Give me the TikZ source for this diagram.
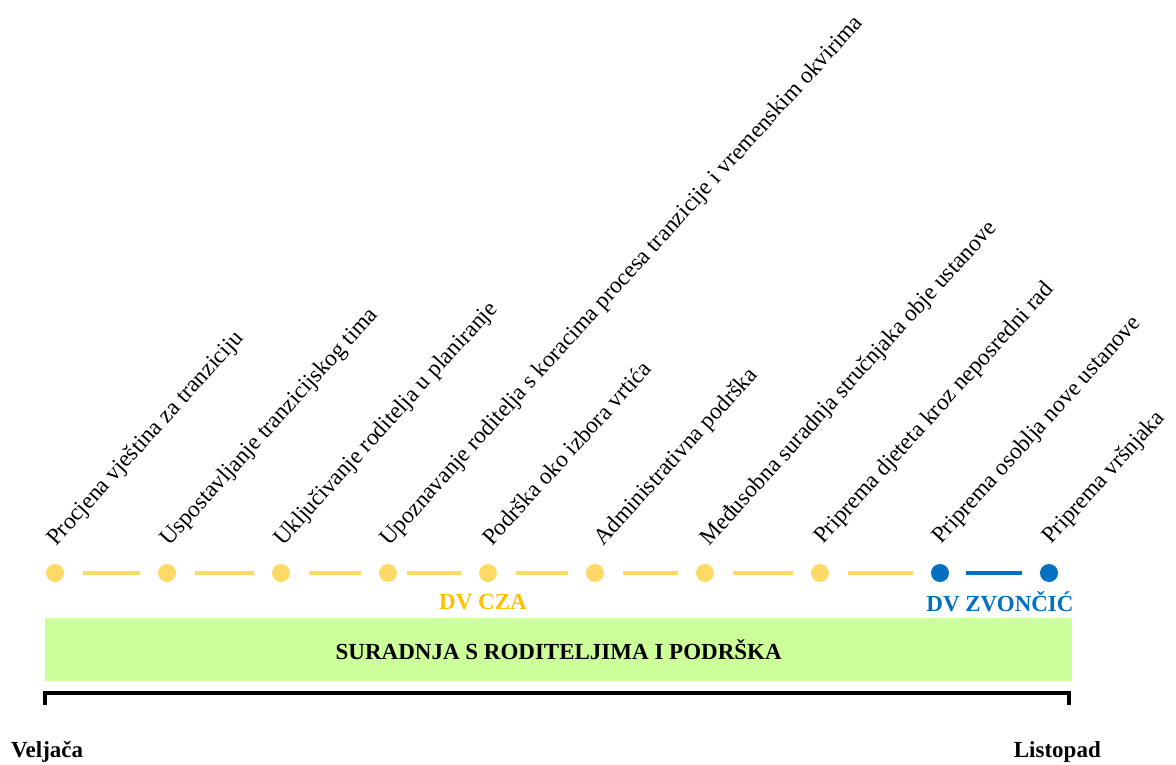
\documentclass[tikz,border=0pt]{standalone}
\usepackage{fontspec}
\setmainfont{Liberation Serif}
\definecolor{dotyellow}{HTML}{FFD966}
\definecolor{czagold}{HTML}{FFC000}
\definecolor{zblue}{HTML}{0070C0}
\definecolor{boxgreen}{HTML}{CCFF99}
\tikzset{
  ydot/.style={circle, fill=dotyellow, draw=none, minimum size=18pt, inner sep=0pt},
  bdot/.style={circle, fill=zblue, draw=none, minimum size=18pt, inner sep=0pt},
  ydash/.style={draw=dotyellow, line width=4.2pt, shorten <=19pt, shorten >=18pt},
  bdash/.style={draw=zblue, line width=4.2pt, shorten <=17pt, shorten >=18pt},
  lbl/.style={rotate=47.8, anchor=base west, inner sep=0pt, font=\fontsize{23.3}{26}\selectfont},
  boldlbl/.style={font=\fontsize{23}{26}\selectfont\bfseries, inner sep=0pt},
}
\begin{document}
\begin{tikzpicture}[x=1pt, y=-1pt]
\useasboundingbox (0,0) rectangle (1176,765);
% dots
\node[ydot] (d1) at (55,573) {};
\node[ydot] (d2) at (167,573) {};
\node[ydot] (d3) at (281,573) {};
\node[ydot] (d4) at (388,573) {};
\node[ydot] (d5) at (488,573) {};
\node[ydot] (d6) at (595,573) {};
\node[ydot] (d7) at (705,573) {};
\node[ydot] (d8) at (820,573) {};
\node[bdot] (d9) at (940,573) {};
\node[bdot] (d10) at (1049,573) {};
% dashes
\draw[ydash] (d1) -- (d2);
\draw[ydash] (d2) -- (d3);
\draw[ydash] (d3) -- (d4);
\draw[ydash, shorten <=10pt] (d4) -- (d5);
\draw[ydash] (d5) -- (d6);
\draw[ydash] (d6) -- (d7);
\draw[ydash] (d7) -- (d8);
\draw[ydash] (d8) -- (d9);
\draw[bdash] (d9) -- (d10);
% labels
\node[lbl] (l1) at (56,547) {Procjena vještina za tranziciju};
\node[lbl] (l2) at (169,547) {Uspostavljanje tranzicijskog tima};
\node[lbl] (l3) at (283,547) {Uključivanje roditelja u planiranje};
\node[lbl] (l4) at (389,547) {Upoznavanje roditelja s koracima procesa tranzicije i vremenskim okvirima};
\node[lbl] (l5) at (492,547) {Podrška oko izbora vrtića};
\node[lbl] (l6) at (603,547) {Administrativna podrška};
\node[lbl] (l7) at (709,547) {Međusobna suradnja stručnjaka obje ustanove};
\node[lbl] (l8) at (823,545) {Priprema djeteta kroz neposredni rad};
\node[lbl] (l9) at (941,545) {Priprema osoblja nove ustanove};
\node[lbl] (l10) at (1051,545) {Priprema vršnjaka};
% group labels
\node[boldlbl, text=czagold] (cza) at (483,602) {DV CZA};
\node[boldlbl, text=zblue] (zvo) at (1000,602) {DV ZVONČIĆ};
% green box
\node[fill=boxgreen, draw=none, minimum width=1027pt, minimum height=63pt, inner sep=0pt, anchor=north west,
      font=\fontsize{23}{26}\selectfont\bfseries] (box) at (45,618) {SURADNJA S RODITELJIMA I PODRŠKA};
% bracket
\coordinate (bl) at (45,705);
\coordinate (br) at (1069,705);
\draw[line width=4pt, line cap=butt] (bl) -- ++(0,-12) -| (br);
% months
\node[boldlbl, anchor=base west] (vel) at (11,757) {Veljača};
\node[boldlbl, anchor=base east] (lis) at (1101,757) {Listopad};
\end{tikzpicture}
\end{document}
